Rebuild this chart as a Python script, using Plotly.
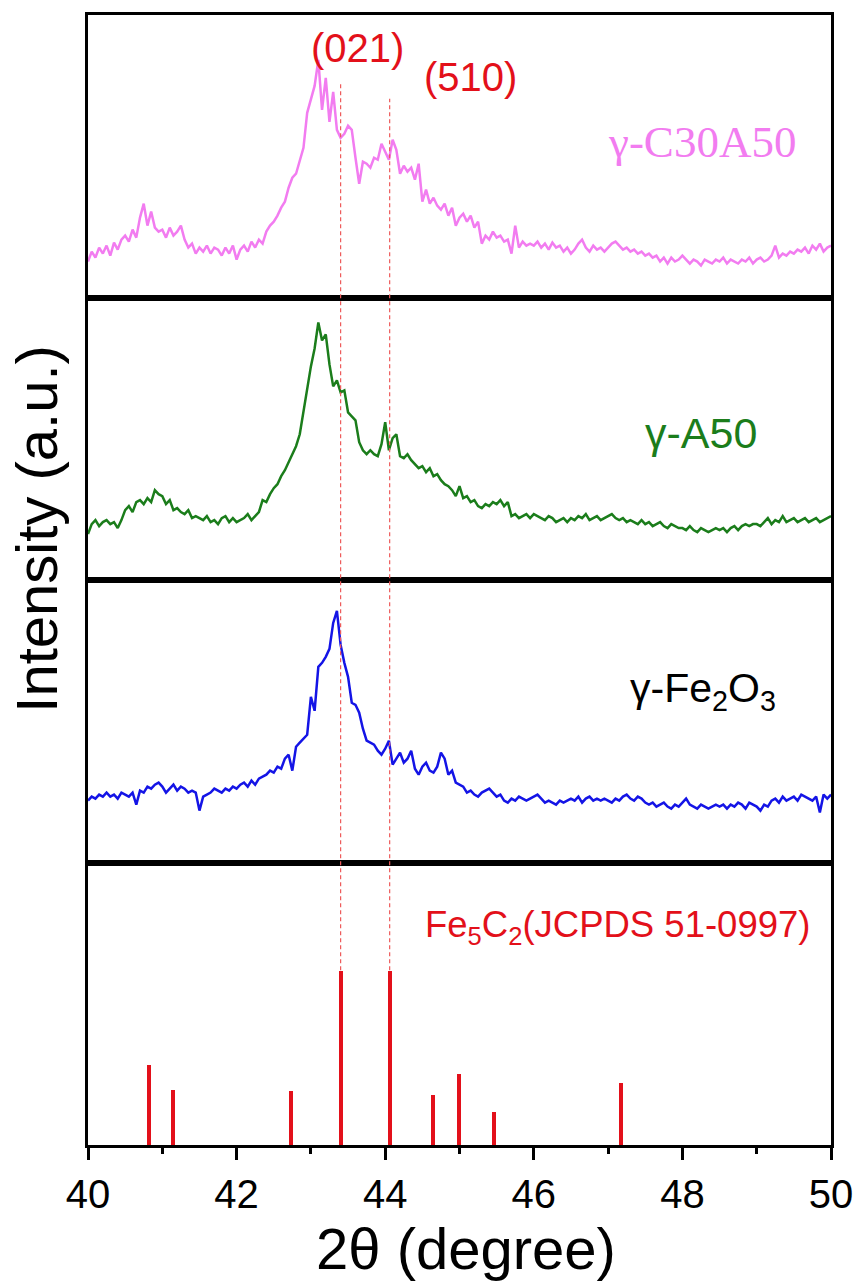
import plotly.graph_objects as go
from plotly.subplots import make_subplots

# ---------------- data ----------------
two_theta = [round(40 + 0.05 * i, 2) for i in range(201)]

c30a50 = [
    36, 46, 40, 50, 44, 52, 42, 55, 48, 58,
    62, 56, 68, 60, 80, 94, 72, 86, 70, 66,
    68, 60, 70, 62, 66, 72, 58, 50, 54, 44,
    50, 46, 52, 44, 50, 48, 42, 50, 44, 52,
    38, 48, 52, 46, 56, 50, 58, 54, 66, 72,
    76, 82, 90, 96, 110, 120, 124, 138, 150, 185,
    200, 212, 238, 188, 220, 176, 206, 168, 160, 164,
    172, 168, 140, 114, 136, 134, 130, 140, 138, 154,
    146, 138, 158, 148, 124, 132, 126, 130, 118, 134,
    96, 108, 94, 100, 92, 88, 94, 82, 90, 72,
    80, 84, 76, 82, 70, 76, 54, 62, 58, 66,
    60, 62, 56, 58, 44, 72, 50, 56, 52, 54,
    52, 56, 50, 54, 48, 55, 50, 52, 46, 50,
    44, 48, 54, 58, 50, 46, 52, 48, 50, 46,
    50, 54, 56, 52, 48, 50, 46, 48, 44, 46,
    42, 44, 40, 42, 36, 40, 34, 40, 36, 38,
    42, 38, 34, 38, 36, 32, 38, 36, 34, 38,
    36, 40, 34, 38, 36, 34, 38, 36, 40, 34,
    38, 40, 36, 38, 42, 52, 40, 44, 42, 46,
    44, 48, 46, 50, 44, 52, 48, 54, 46, 50,
    52,
]

a50 = [
    46, 56, 60, 54, 58, 60, 56, 58, 52, 60,
    70, 74, 68, 78, 80, 76, 82, 78, 90, 86,
    84, 76, 80, 70, 72, 68, 66, 70, 62, 64,
    62, 60, 64, 58, 60, 56, 62, 64, 58, 62,
    58, 60, 62, 66, 60, 64, 68, 80, 78, 86,
    92, 96, 104, 110, 118, 126, 134, 146, 170, 190,
    214, 232, 258, 240, 246, 216, 194, 200, 188, 190,
    168, 164, 160, 138, 130, 126, 130, 126, 124, 136,
    158, 130, 142, 146, 124, 122, 126, 120, 116, 112,
    114, 108, 112, 104, 106, 100, 96, 94, 90, 84,
    94, 82, 84, 78, 80, 74, 72, 76, 74, 78,
    76, 80, 74, 78, 64, 66, 62, 64, 66, 62,
    66, 64, 62, 60, 64, 62, 58, 60, 62, 58,
    62, 60, 64, 62, 66, 60, 62, 64, 60, 62,
    64, 66, 62, 60, 62, 58, 60, 58, 56, 60,
    56, 58, 54, 56, 58, 54, 52, 56, 54, 52,
    52, 50, 54, 50, 48, 52, 50, 48, 50, 52,
    50, 52, 48, 52, 54, 50, 54, 56, 54, 56,
    56, 54, 58, 62, 56, 60, 58, 64, 58, 60,
    62, 58, 60, 62, 58, 60, 62, 58, 60, 62,
    64,
]

fe2o3 = [
    62, 66, 64, 68, 66, 70, 66, 68, 64, 70,
    68, 66, 70, 58, 72, 70, 76, 74, 78, 80,
    76, 70, 74, 78, 72, 76, 74, 70, 72, 70,
    52, 66, 68, 70, 74, 72, 70, 74, 72, 76,
    74, 78, 80, 76, 82, 78, 84, 86, 88, 92,
    90, 96, 94, 104, 108, 92, 116, 120, 124, 128,
    166, 152, 196, 200, 206, 214, 240, 252, 218, 200,
    186, 160, 158, 150, 134, 122, 120, 118, 112, 108,
    114, 122, 98, 104, 110, 100, 104, 112, 94, 88,
    96, 100, 92, 90, 96, 110, 104, 88, 92, 80,
    78, 76, 70, 72, 68, 66, 70, 72, 74, 70,
    66, 68, 62, 60, 64, 62, 66, 64, 62, 64,
    66, 68, 64, 60, 62, 60, 58, 62, 60, 62,
    64, 62, 66, 60, 64, 66, 62, 64, 62, 64,
    62, 60, 64, 62, 66, 68, 64, 62, 66, 64,
    60, 58, 60, 56, 58, 60, 56, 54, 58, 56,
    60, 64, 58, 56, 54, 58, 56, 54, 56, 58,
    56, 58, 54, 58, 56, 60, 58, 54, 60, 58,
    56, 52, 58, 56, 62, 64, 60, 66, 62, 64,
    66, 62, 68, 66, 64, 62, 66, 50, 68, 64,
    68,
]

ref_pos = [40.82, 41.14, 42.73, 43.40, 44.06, 44.64, 44.99, 45.46, 47.17]
ref_int = [46, 32, 31, 100, 100, 29, 41, 19, 36]

hkl_labels = ["(021)", "(510)"]
hkl_pos = [43.40, 44.06]

# ---------------- styling ----------------
FONT = "Arial, 'Liberation Sans', sans-serif"
SERIF = "'Times New Roman', 'Liberation Serif', serif"
PINK = "#F27CF0"
GREEN = "#1B7D1B"
BLUE = "#1414E6"
RED = "#E3101A"
PANEL_MAX = 283
STICK_MAX = 161.7

fig = make_subplots(rows=4, cols=1, shared_xaxes=True, vertical_spacing=0)

fig.add_trace(go.Scatter(x=two_theta, y=c30a50, mode="lines",
                         line=dict(color=PINK, width=2.5)), row=1, col=1)
fig.add_trace(go.Scatter(x=two_theta, y=a50, mode="lines",
                         line=dict(color=GREEN, width=2.5)), row=2, col=1)
fig.add_trace(go.Scatter(x=two_theta, y=fe2o3, mode="lines",
                         line=dict(color=BLUE, width=2.5)), row=3, col=1)
fig.add_trace(go.Bar(x=ref_pos, y=ref_int, width=0.055,
                     marker=dict(color=RED, line=dict(width=0))), row=4, col=1)

for r in range(1, 5):
    fig.update_xaxes(range=[40, 50], showline=True, mirror=True, linewidth=3,
                     linecolor="black", showgrid=False, zeroline=False,
                     ticks="", showticklabels=False, row=r, col=1)
    fig.update_yaxes(range=[0, PANEL_MAX if r < 4 else STICK_MAX],
                     showline=True, mirror=True, linewidth=3, linecolor="black",
                     showgrid=False, zeroline=False, ticks="",
                     showticklabels=False, row=r, col=1)

fig.update_xaxes(ticks="outside", ticklen=12, tickwidth=2.5, tickcolor="black",
                 showticklabels=True, dtick=2, tick0=40,
                 tickfont=dict(family=FONT, size=40, color="black"),
                 minor=dict(ticks="outside", ticklen=6, tickwidth=2.5,
                            tickcolor="black", dtick=1, tick0=40),
                 row=4, col=1)

# dashed reference lines from stick tops up into top panel
dash_tops = [0.9408, 0.9258]
for xp, top in zip(hkl_pos, dash_tops):
    h = ref_int[ref_pos.index(xp)]
    fig.add_shape(type="line", xref="x", yref="paper", x0=xp, x1=xp,
                  y0=0.25 * h / STICK_MAX, y1=top,
                  line=dict(color="#EE5A5A", width=1.2, dash="4px,3px"))

ann = []
ann.append(dict(text=hkl_labels[0], x=43.63, y=250, xref="x", yref="y",
                font=dict(family=FONT, size=40, color=RED)))
ann.append(dict(text=hkl_labels[1], x=45.15, y=221, xref="x", yref="y",
                font=dict(family=FONT, size=40, color=RED)))
ann.append(dict(text="γ-C30A50", x=48.26, y=156, xref="x", yref="y",
                font=dict(family=SERIF, size=45, color=PINK)))
ann.append(dict(text="γ-A50", x=48.25, y=147, xref="x2", yref="y2",
                font=dict(family=FONT, size=43, color=GREEN)))
ann.append(dict(text="γ-Fe<sub>2</sub>O<sub>3</sub>", x=48.28, y=172,
                xref="x3", yref="y3",
                font=dict(family=FONT, size=41, color="black")))
ann.append(dict(text="Fe<sub>5</sub>C<sub>2</sub>(JCPDS 51-0997)", x=47.12, y=124.6,
                xref="x4", yref="y4",
                font=dict(family=FONT, size=36.5, color=RED)))
ann.append(dict(text="Intensity (a.u.)", x=-0.0693, y=0.545, xref="paper",
                yref="paper", textangle=-90,
                font=dict(family=FONT, size=58, color="black")))
ann.append(dict(text="2θ (degree)", x=0.509, y=-0.092, xref="paper",
                yref="paper", font=dict(family=FONT, size=58, color="black")))
for a in ann:
    a.update(showarrow=False, xanchor="center", yanchor="middle")
fig.update_layout(annotations=ann)

fig.update_layout(width=865, height=1283, showlegend=False,
                  margin=dict(l=88, r=27, t=13, b=138),
                  paper_bgcolor="white", plot_bgcolor="white", bargap=0)

fig.write_html("out.html")
